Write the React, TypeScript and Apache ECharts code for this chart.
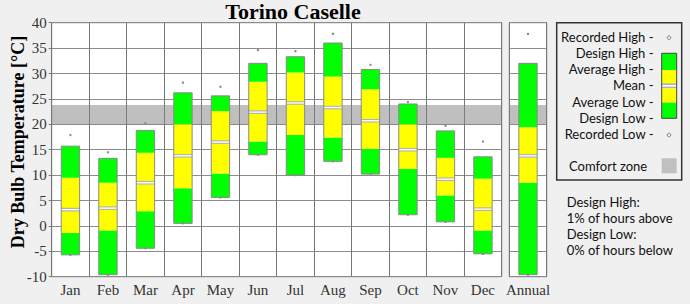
import { useEffect, useRef } from "react";
import * as echarts from "echarts";

// Monthly dry bulb temperature statistics, °C
const months = ["Jan", "Feb", "Mar", "Apr", "May", "Jun", "Jul", "Aug", "Sep", "Oct", "Nov", "Dec"];
const designLow = [-5.7, -9.6, -4.4, 0.5, 5.6, 14.0, 10.0, 12.7, 10.2, 2.2, 0.8, -5.5];
const averageLow = [-1.4, -0.9, 2.9, 7.4, 10.3, 16.6, 17.9, 17.4, 15.2, 11.2, 6.0, -0.9];
const meanTemp = [3.2, 3.5, 8.5, 13.8, 16.5, 22.4, 24.2, 23.3, 20.7, 15.0, 9.2, 3.3];
const averageHigh = [9.5, 8.5, 14.4, 20.0, 22.6, 28.4, 30.2, 29.4, 26.9, 20.0, 13.4, 9.3];
const designHigh = [15.7, 13.3, 18.8, 26.2, 25.6, 32.0, 33.3, 36.0, 30.8, 24.0, 18.7, 13.6];
const recordedHigh = [17.9, 14.5, 20.2, 28.2, 27.4, 34.6, 34.4, 37.8, 31.7, 24.4, 19.7, 16.6];
const recordedLow = [-5.7, -9.6, -4.4, 0.5, 5.6, 14.0, 10.0, 12.7, 10.2, 2.2, 0.8, -5.5];

// Whole-year statistics
const annualLabel = ["Annual"];
const annualDesignLow = [-9.6];
const annualAverageLow = [8.5];
const annualMean = [13.8];
const annualAverageHigh = [19.4];
const annualDesignHigh = [32.0];
const annualRecordedHigh = [37.8];
const annualRecordedLow = [-9.6];

// Comfort zone band, °C
const comfortZone = [20, 23.8];

// Y axis range and step
const yMin = -10;
const yMax = 40;
const yStep = 5;

const GREEN = "#00ff00";
const YELLOW = "#ffff00";
const GRID_LINE = "#8c8c8c";
const SERIF = "'Liberation Serif', 'Times New Roman', serif";
const SANS = "Lato, 'Open Sans', sans-serif";

function rows(
  dl: number[], al: number[], mn: number[], ah: number[], dh: number[], rh: number[], rl: number[]
) {
  return dl.map((_, i) => [i, dl[i], al[i], mn[i], ah[i], dh[i], rh[i], rl[i]]);
}

function renderBox(_params: any, api: any) {
  const x = api.value(0);
  const pDL = api.coord([x, api.value(1)]);
  const pAL = api.coord([x, api.value(2)]);
  const pMN = api.coord([x, api.value(3)]);
  const pAH = api.coord([x, api.value(4)]);
  const pDH = api.coord([x, api.value(5)]);
  const pRH = api.coord([x, api.value(6)]);
  const pRL = api.coord([x, api.value(7)]);
  const w = api.size([1, 0])[0] * 0.49;
  const left = pDL[0] - w / 2;
  const seg = (yBottom: number, yTop: number, fill: string) => ({
    type: "rect",
    shape: { x: left, y: yTop, width: w, height: yBottom - yTop },
    style: { fill },
  });
  return {
    type: "group",
    children: [
      seg(pDL[1], pAL[1], GREEN),
      seg(pAL[1], pAH[1], YELLOW),
      seg(pAH[1], pDH[1], GREEN),
      { type: "rect", shape: { x: left, y: pMN[1] - 1.8, width: w, height: 3.6 }, style: { fill: "#b2b2b2" } },
      { type: "rect", shape: { x: left, y: pMN[1] - 0.7, width: w, height: 1.4 }, style: { fill: "#ffffff" } },
      {
        type: "rect",
        shape: { x: left, y: pDH[1], width: w, height: pDL[1] - pDH[1] },
        style: { fill: "none", stroke: "#8a8a8a", lineWidth: 1 },
      },
      { type: "circle", shape: { cx: pRH[0], cy: pRH[1], r: 1.2 }, style: { fill: "#8a8a8a" } },
      { type: "circle", shape: { cx: pRL[0], cy: pRL[1], r: 1.2 }, style: { fill: "#8a8a8a" } },
    ],
  };
}

function yAxisFor(gridIndex: number, showLabels: boolean) {
  return {
    type: "value",
    gridIndex,
    min: yMin,
    max: yMax,
    interval: yStep,
    axisLine: { show: false },
    axisTick: { show: showLabels, length: 3, lineStyle: { color: "#777" } },
    axisLabel: {
      show: showLabels,
      fontFamily: SERIF,
      fontSize: 15,
      color: "#333",
      margin: 5,
    },
    splitLine: { show: true, lineStyle: { color: GRID_LINE, width: 1 } },
  };
}

function xAxisFor(gridIndex: number, data: string[]) {
  return {
    type: "category",
    gridIndex,
    data,
    axisLine: { show: false },
    axisTick: { show: false },
    axisLabel: { fontFamily: SERIF, fontSize: 15, color: "#333", margin: 6, interval: 0 },
    splitLine: { show: true, interval: 0, lineStyle: { color: "#777", width: 1 } },
  };
}

function comfortSeries(axisIndex: number) {
  return {
    type: "line",
    xAxisIndex: axisIndex,
    yAxisIndex: axisIndex,
    data: [],
    z: 1,
    silent: true,
    markArea: {
      silent: true,
      itemStyle: { color: "rgba(128,128,128,0.5)" },
      data: [[{ yAxis: comfortZone[0] }, { yAxis: comfortZone[1] }]],
    },
  };
}

const legendRows = [
  "Recorded High -",
  "Design High -",
  "Average High -",
  "Mean -",
  "Average Low -",
  "Design Low -",
  "Recorded Low -",
];

const notes = ["Design High:", "1% of hours above", "Design Low:", "0% of hours below"];

export default function App() {
  const ref = useRef<HTMLDivElement>(null);

  useEffect(() => {
    if (!ref.current) return;
    const chart = echarts.init(ref.current, null, { renderer: "svg" });

    const legendTop = 36.7;
    const legendStep = 16.2;
    const graphics: any[] = [
      {
        type: "text",
        x: 293,
        y: 11,
        style: {
          text: "Torino Caselle",
          font: `bold 22px ${SERIF}`,
          fill: "#000",
          textAlign: "center",
          textVerticalAlign: "middle",
        },
      },
      {
        type: "text",
        x: 17.5,
        y: 142,
        rotation: Math.PI / 2,
        style: {
          text: "Dry Bulb Temperature [°C]",
          font: `bold 18px ${SERIF}`,
          fill: "#000",
          textAlign: "center",
          textVerticalAlign: "middle",
        },
      },
      {
        type: "rect",
        shape: { x: 556.7, y: 22.7, width: 125, height: 157.3 },
        style: { fill: "none", stroke: "#333", lineWidth: 1.5 },
      },
      ...legendRows.map((t, i) => ({
        type: "text",
        x: 653.5,
        y: legendTop + i * legendStep,
        style: { text: t, font: `13px ${SANS}`, fill: "#111", textAlign: "right", textVerticalAlign: "middle" },
      })),
      { type: "circle", shape: { cx: 669, cy: 37.7, r: 1.8 }, style: { fill: "none", stroke: "#666", lineWidth: 0.8 } },
      { type: "circle", shape: { cx: 669, cy: 135, r: 1.8 }, style: { fill: "none", stroke: "#666", lineWidth: 0.8 } },
      { type: "rect", shape: { x: 661.7, y: 53.3, width: 15, height: 16.7 }, style: { fill: GREEN } },
      { type: "rect", shape: { x: 661.7, y: 70, width: 15, height: 13.3 }, style: { fill: YELLOW } },
      { type: "rect", shape: { x: 661.7, y: 83.3, width: 15, height: 5 }, style: { fill: "#b2b2b2" } },
      { type: "rect", shape: { x: 661.7, y: 85, width: 15, height: 1.6 }, style: { fill: "#fff" } },
      { type: "rect", shape: { x: 661.7, y: 88.3, width: 15, height: 14.4 }, style: { fill: YELLOW } },
      { type: "rect", shape: { x: 661.7, y: 102.7, width: 15, height: 15.6 }, style: { fill: GREEN } },
      {
        type: "rect",
        shape: { x: 661.7, y: 53.3, width: 15, height: 65 },
        style: { fill: "none", stroke: "#444", lineWidth: 1 },
      },
      {
        type: "text",
        x: 569,
        y: 165.7,
        style: { text: "Comfort zone", font: `13px ${SANS}`, fill: "#111", textAlign: "left", textVerticalAlign: "middle" },
      },
      { type: "rect", shape: { x: 661.7, y: 158.3, width: 15, height: 15 }, style: { fill: "#c0c0c0" } },
      ...notes.map((t, i) => ({
        type: "text",
        x: 566.7,
        y: 201.7 + i * 16.1,
        style: { text: t, font: `13px ${SANS}`, fill: "#111", textAlign: "left", textVerticalAlign: "middle" },
      })),
    ];

    chart.setOption({
      animation: false,
      backgroundColor: "#f0f0f0",
      grid: [
        { left: 51.7, top: 22.7, width: 450, height: 254, show: true, backgroundColor: "#fff", borderColor: "#777", borderWidth: 1 },
        { left: 509.3, top: 22.7, width: 37.4, height: 254, show: true, backgroundColor: "#fff", borderColor: "#777", borderWidth: 1 },
      ],
      xAxis: [xAxisFor(0, months), xAxisFor(1, annualLabel)],
      yAxis: [yAxisFor(0, true), yAxisFor(1, false)],
      series: [
        comfortSeries(0),
        comfortSeries(1),
        {
          type: "custom",
          xAxisIndex: 0,
          yAxisIndex: 0,
          z: 3,
          renderItem: renderBox,
          encode: { x: 0, y: [1, 2, 3, 4, 5, 6, 7] },
          data: rows(designLow, averageLow, meanTemp, averageHigh, designHigh, recordedHigh, recordedLow),
        },
        {
          type: "custom",
          xAxisIndex: 1,
          yAxisIndex: 1,
          z: 3,
          renderItem: renderBox,
          encode: { x: 0, y: [1, 2, 3, 4, 5, 6, 7] },
          data: rows(
            annualDesignLow, annualAverageLow, annualMean, annualAverageHigh,
            annualDesignHigh, annualRecordedHigh, annualRecordedLow
          ),
        },
      ],
      graphic: graphics,
    });

    return () => chart.dispose();
  }, []);

  return (
    <div
      ref={ref}
      style={{ position: "fixed", left: 0, top: 0, width: 690, height: 304, background: "#f0f0f0" }}
    />
  );
}
